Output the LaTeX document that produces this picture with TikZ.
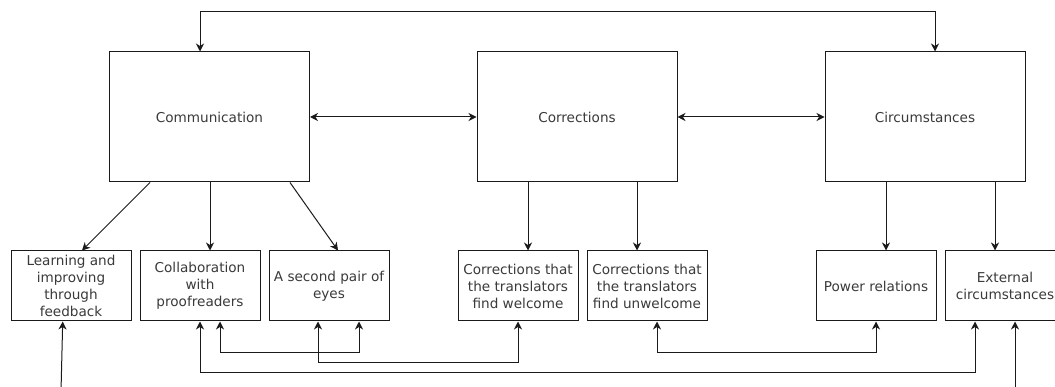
\documentclass[tikz,border=0pt]{standalone}
\usepackage{fontspec}
\setmainfont{DejaVu Sans}
\usetikzlibrary{arrows.meta}
\definecolor{txt}{HTML}{3A3A3A}
\definecolor{ln}{HTML}{1A1A1A}
\begin{document}
\begin{tikzpicture}[x=1pt,y=-1pt,
  bigbox/.style={draw=ln,line width=1pt,minimum width=200pt,minimum height=130pt,inner sep=0pt,
    font=\fontsize{13.6}{17}\selectfont,text=txt,align=center},
  smallbox/.style={draw=ln,line width=1pt,minimum width=120pt,minimum height=70pt,inner sep=0pt,
    font=\fontsize{13.6}{17}\selectfont,text=txt,align=center},
  tip/.tip={Stealth[length=8pt,width=8pt,inset=2.5pt]},
  arr/.style={draw=ln,line width=1pt,-tip},
  darr/.style={draw=ln,line width=1pt,tip-tip}]
\useasboundingbox (0,0) rectangle (1055,387);
\clip (0,0) rectangle (1055,387);
\fill[white] (0,0) rectangle (1055,387);
% big boxes
\node[bigbox] (comm) at (209.5,117) {Communication};
\node[bigbox] (corr) at (577,117) {Corrections};
\node[bigbox] (circ) at (925,117) {Circumstances};
% small boxes
\node[smallbox] (learn) at (71,286) {Learning and\\improving\\through\\feedback};
\node[smallbox] (collab) at (200,286) {Collaboration\\with\\proofreaders};
\node[smallbox] (second) at (329,286) {A second pair of\\eyes};
\node[smallbox] (welc) at (518,286) {Corrections that\\the translators\\find welcome};
\node[smallbox] (unwelc) at (647,286) {Corrections that\\the translators\\find unwelcome};
\node[smallbox] (power) at (876,286) {Power relations};
\node[smallbox] (ext) at (1005,286) {External\\circumstances};
% top connector
\draw[darr] ([xshift=-9.5pt]comm.north) -- ++(0,-40) -| ([xshift=10pt]circ.north);
% horizontal double arrows
\draw[darr] (comm.east) -- (corr.west);
\draw[darr] (corr.east) -- (circ.west);
% from Communication
\draw[arr] ([xshift=-59.5pt]comm.south) -- ([xshift=11pt]learn.north);
\draw[arr] ([xshift=0.5pt]comm.south) -- ([xshift=10pt]collab.north);
\draw[arr] ([xshift=80.5pt]comm.south) -- ([xshift=9pt]second.north);
% from Corrections
\draw[arr] ([xshift=-49pt]corr.south) -- ([xshift=10pt]welc.north);
\draw[arr] ([xshift=60pt]corr.south) -- ([xshift=-10pt]unwelc.north);
% from Circumstances
\draw[arr] ([xshift=-39pt]circ.south) -- ([xshift=10pt]power.north);
\draw[arr] ([xshift=70pt]circ.south) -- ([xshift=-10pt]ext.north);
% bottom connectors
\draw[darr] ([xshift=20pt]collab.south) -- ++(0,31) -| ([xshift=30pt]second.south);
\draw[darr] ([xshift=-11pt]second.south) -- ++(0,41) -| (welc.south);
\draw[darr] (collab.south) -- ++(0,51) -| ([xshift=-30pt]ext.south);
\draw[darr] ([xshift=10pt]unwelc.south) -- ++(0,31) -| (power.south);
% free arrows from below
\coordinate (f1) at (61,392);
\coordinate (f2) at (1015,392);
\draw[arr] (f1) -- ([xshift=-8.3pt]learn.south);
\draw[arr] (f2) -- ([xshift=10pt]ext.south);
\end{tikzpicture}
\end{document}
